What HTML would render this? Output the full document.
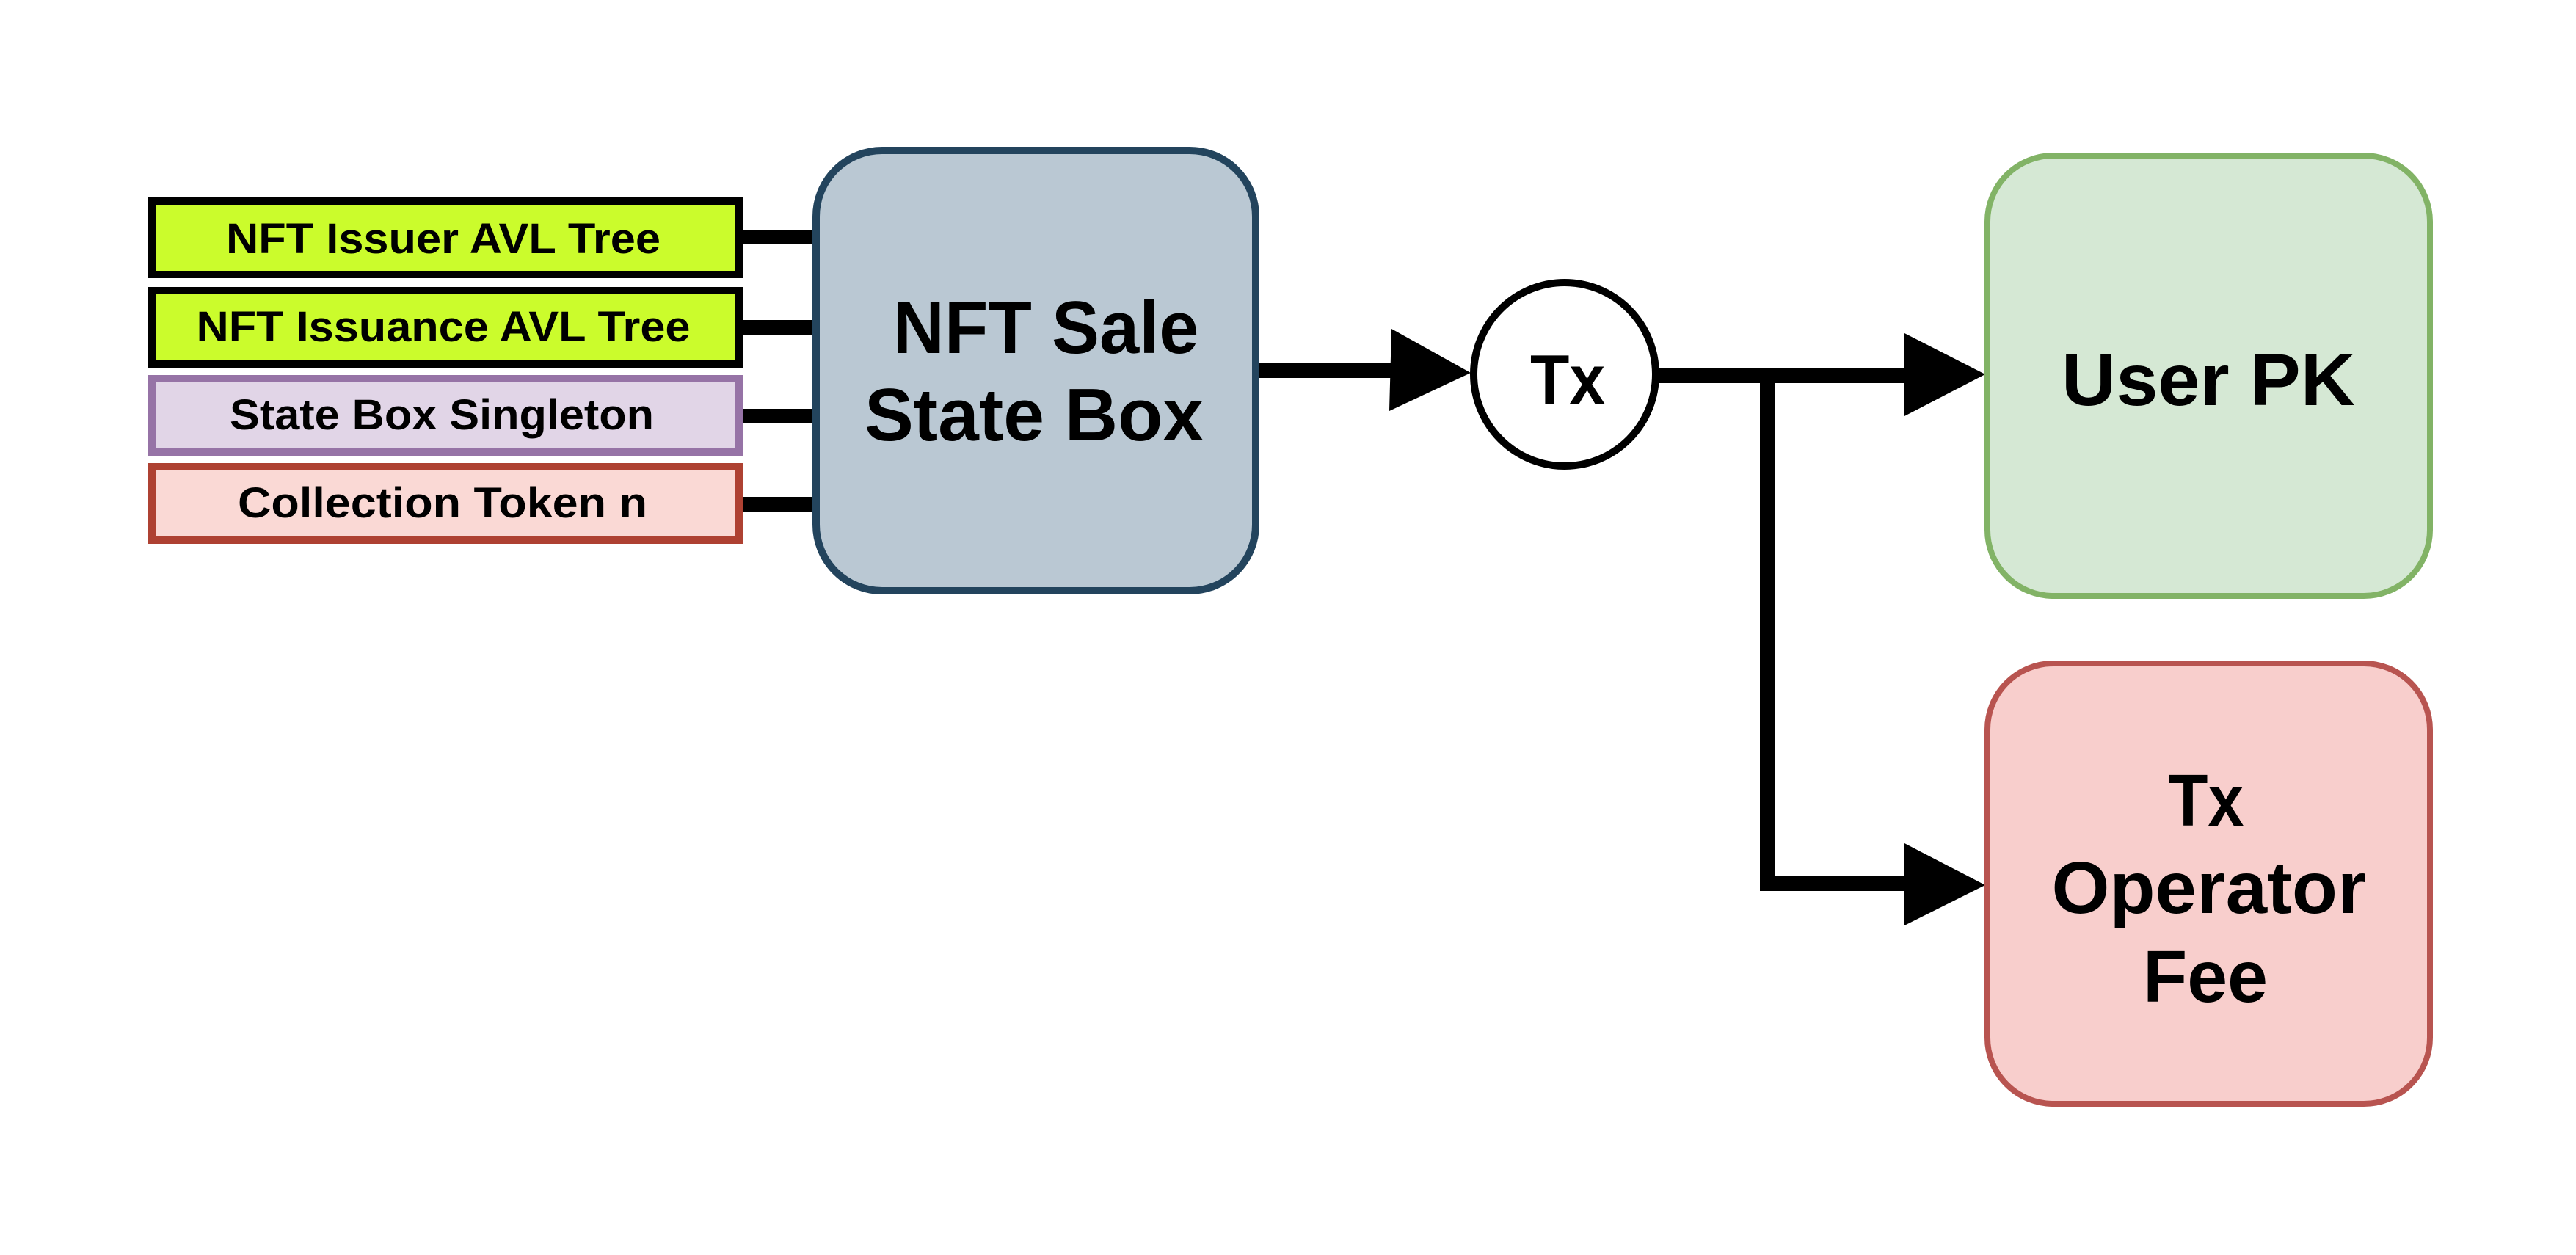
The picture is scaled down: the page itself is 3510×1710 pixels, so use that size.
<!DOCTYPE html>
<html><head><meta charset="utf-8"><style>html,body{margin:0;padding:0;background:#fff}svg{display:block}</style></head>
<body>
<svg width="3510" height="1710" viewBox="0 0 3510 1710" xmlns="http://www.w3.org/2000/svg" font-family="Liberation Sans, Arial, sans-serif" font-weight="bold">
<rect width="3510" height="1710" fill="#fff"/>
<rect x="207" y="274" width="800" height="100" fill="#cbfc2c" stroke="#000" stroke-width="10"/>
<rect x="207" y="396" width="800" height="100" fill="#cbfc2c" stroke="#000" stroke-width="10"/>
<rect x="207" y="516" width="800" height="100" fill="#e1d5e7" stroke="#9673a6" stroke-width="10"/>
<rect x="207" y="636" width="800" height="100" fill="#fad9d5" stroke="#ae4132" stroke-width="10"/>
<text x="604" y="345" font-size="58" text-anchor="middle" textLength="592" lengthAdjust="spacingAndGlyphs">NFT Issuer AVL Tree</text>
<text x="604" y="465" font-size="58" text-anchor="middle" textLength="673" lengthAdjust="spacingAndGlyphs">NFT Issuance AVL Tree</text>
<text x="602" y="585" font-size="58" text-anchor="middle" textLength="578" lengthAdjust="spacingAndGlyphs">State Box Singleton</text>
<text x="603" y="705" font-size="58" text-anchor="middle" textLength="558" lengthAdjust="spacingAndGlyphs">Collection Token n</text>
<g stroke="#000" stroke-width="20">
<line x1="1012" y1="323" x2="1112" y2="323"/>
<line x1="1012" y1="446" x2="1112" y2="446"/>
<line x1="1012" y1="567" x2="1112" y2="567"/>
<line x1="1012" y1="687" x2="1112" y2="687"/>
</g>
<rect x="1112" y="205" width="599" height="600" rx="90" fill="#bac8d3" stroke="#23445d" stroke-width="10"/>
<text x="1425" y="481" font-size="101" text-anchor="middle" textLength="417" lengthAdjust="spacingAndGlyphs">NFT Sale</text>
<text x="1409" y="600" font-size="101" text-anchor="middle" textLength="462" lengthAdjust="spacingAndGlyphs">State Box</text>
<line x1="1716" y1="505" x2="1900" y2="505" stroke="#000" stroke-width="20"/>
<polygon points="1896,448 2004,508 1893,560" fill="#000"/>
<ellipse cx="2132" cy="510" rx="124" ry="125" fill="#fff" stroke="#000" stroke-width="10"/>
<text x="2136" y="550" font-size="96" text-anchor="middle" textLength="102" lengthAdjust="spacingAndGlyphs">Tx</text>
<line x1="2261" y1="512" x2="2600" y2="512" stroke="#000" stroke-width="20"/>
<polyline points="2408,512 2408,1204 2600,1204" fill="none" stroke="#000" stroke-width="20"/>
<polygon points="2595,454 2705,510 2595,567" fill="#000"/>
<polygon points="2595,1149 2705,1206 2595,1261" fill="#000"/>
<rect x="2708" y="212" width="603" height="600" rx="90" fill="#d5e8d4" stroke="#82b366" stroke-width="8"/>
<rect x="2708" y="904" width="603" height="600" rx="90" fill="#f8cecc" stroke="#b85450" stroke-width="8"/>
<text x="3009" y="552" font-size="100" text-anchor="middle" textLength="400" lengthAdjust="spacingAndGlyphs">User PK</text>
<text x="3006" y="1125" font-size="100" text-anchor="middle" textLength="103" lengthAdjust="spacingAndGlyphs">Tx</text>
<text x="3010" y="1244" font-size="100" text-anchor="middle" textLength="429" lengthAdjust="spacingAndGlyphs">Operator</text>
<text x="3005" y="1365" font-size="100" text-anchor="middle" textLength="170" lengthAdjust="spacingAndGlyphs">Fee</text>
</svg>
</body></html>
